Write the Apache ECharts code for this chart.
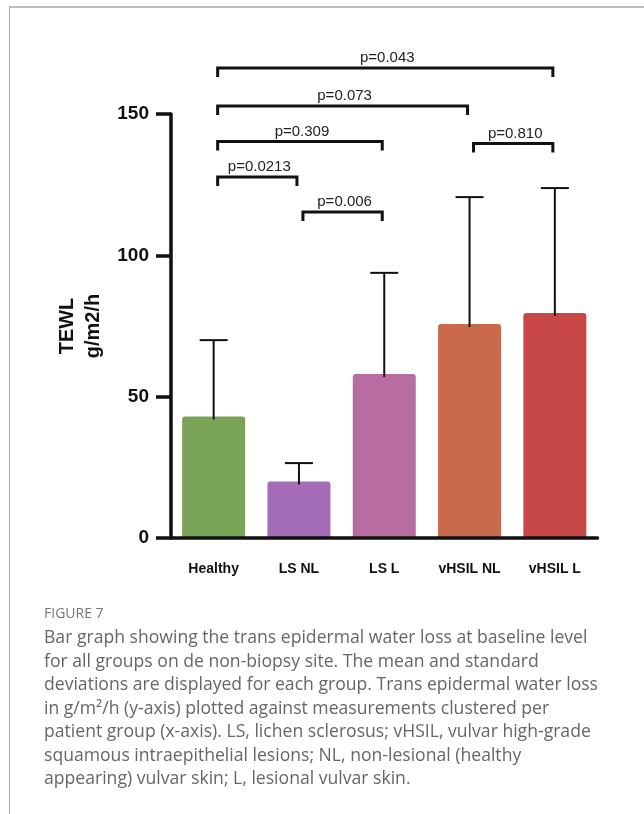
<!DOCTYPE html>
<html>
<head>
<meta charset="utf-8">
<script src="https://cdn.jsdelivr.net/npm/echarts@6/dist/echarts.min.js"></script>
<style>
html,body{margin:0;padding:0;background:#fff;}
#chart{width:644px;height:814px;}
</style>
</head>
<body>
<div id="chart"></div>
<script>
// ---- data ----
const categories = ['Healthy', 'LS NL', 'LS L', 'vHSIL NL', 'vHSIL L'];
const means = [43, 20, 58, 75.7, 79.6];
const sdTops = [70, 26.5, 93.8, 120.6, 123.8];
const barColors = ['#79A357', '#A46CB7', '#B76CA2', '#C96A4A', '#C84848'];
const yTicks = [0, 50, 100, 150];
// comparisons: [fromIndex, toIndex, bracketLevel, label]
const bracketFrom = [0, 0, 0, 0, 1, 3];
const bracketTo = [4, 3, 2, 1, 2, 4];
const bracketLevel = [166.3, 152.8, 140.3, 127.7, 115.3, 139.6];
const bracketLabels = ['p=0.043', 'p=0.073', 'p=0.309', 'p=0.0213', 'p=0.006', 'p=0.810'];
const yAxisName = 'TEWL\ng/m2/h';
const figureLabel = 'FIGURE 7';
const captionLines = [
  'Bar graph showing the trans epidermal water loss at baseline level',
  'for all groups on de non-biopsy site. The mean and standard',
  'deviations are displayed for each group. Trans epidermal water loss',
  'in g/m\u00B2/h (y-axis) plotted against measurements clustered per',
  'patient group (x-axis). LS, lichen sclerosus; vHSIL, vulvar high-grade',
  'squamous intraepithelial lesions; NL, non-lesional (healthy',
  'appearing) vulvar skin; L, lesional vulvar skin.'
];

// ---- build ----
const chart = echarts.init(document.getElementById('chart'));
const axisFont = 'Liberation Sans, Arial, Helvetica, sans-serif';
const ink = '#111';

const barData = means.map((v, i) => ({ value: v, itemStyle: { color: barColors[i] } }));
const errData = means.map((v, i) => [i, v, sdTops[i]]);
const brData = bracketFrom.map((f, i) => [f, bracketTo[i], bracketLevel[i], bracketLabels[i]]);

const graphics = [
  { type: 'line', shape: { x1: 9, y1: 7, x2: 644, y2: 7 }, style: { stroke: '#bdbdbd', lineWidth: 2 } },
  { type: 'line', shape: { x1: 9.5, y1: 7, x2: 9.5, y2: 814 }, style: { stroke: '#a8a8a8', lineWidth: 1 } },
  { type: 'text', left: 44, top: 607, style: { text: figureLabel, font: '14px "Open Sans", sans-serif', fill: '#777' } }
];
captionLines.forEach((t, i) => {
  graphics.push({ type: 'text', left: 44, top: 629 + i * 23.5,
    style: { text: t, font: '17.6px "Open Sans", sans-serif', fill: '#666' } });
});

const option = {
  animation: false,
  backgroundColor: '#fff',
  grid: { left: 171, right: 46.5, top: 114, bottom: 276, containLabel: false },
  xAxis: {
    type: 'category',
    data: categories,
    z: 5,
    axisLine: { lineStyle: { color: ink, width: 3.5 } },
    axisTick: { alignWithLabel: true, length: 15, lineStyle: { color: ink, width: 3.5 } },
    axisLabel: { color: ink, fontFamily: axisFont, fontWeight: 'bold', fontSize: 14, margin: 24 }
  },
  yAxis: {
    type: 'value',
    min: yTicks[0], max: yTicks[yTicks.length - 1], interval: 50,
    splitLine: { show: false },
    axisLine: { show: true, lineStyle: { color: ink, width: 3.5 } },
    axisTick: { show: true, length: 15, lineStyle: { color: ink, width: 3.5 } },
    axisLabel: { color: ink, fontFamily: axisFont, fontWeight: 'bold', fontSize: 19, margin: 22 },
    name: yAxisName,
    nameLocation: 'middle',
    nameRotate: 90,
    nameGap: 56,
    nameTextStyle: { color: ink, fontFamily: axisFont, fontWeight: 'bold', fontSize: 20, lineHeight: 26 }
  },
  series: [
    {
      type: 'bar',
      data: barData,
      barWidth: 63,
      itemStyle: { borderRadius: [3, 3, 0, 0] },
      z: 2
    },
    {
      type: 'custom',
      data: errData,
      z: 3,
      encode: { x: 0, y: [1, 2] },
      renderItem: function (params, api) {
        const p0 = api.coord([api.value(0), api.value(1)]);
        const p1 = api.coord([api.value(0), api.value(2)]);
        const hw = 14;
        return {
          type: 'group',
          children: [
            { type: 'line', shape: { x1: p0[0], y1: p0[1] + 3, x2: p1[0], y2: p1[1] }, style: { stroke: ink, lineWidth: 2 } },
            { type: 'line', shape: { x1: p1[0] - hw, y1: p1[1], x2: p1[0] + hw, y2: p1[1] }, style: { stroke: ink, lineWidth: 2 } }
          ]
        };
      }
    },
    {
      type: 'custom',
      data: brData,
      z: 4,
      clip: false,
      encode: { x: [0, 1], y: 2 },
      renderItem: function (params, api) {
        const a = api.coord([api.value(0), api.value(2)]);
        const b = api.coord([api.value(1), api.value(2)]);
        const xl = a[0] + 4, xr = b[0] - 2, y = a[1], drop = 9;
        const label = brData[params.dataIndex][3];
        return {
          type: 'group',
          children: [
            { type: 'polyline', shape: { points: [[xl, y + drop], [xl, y], [xr, y], [xr, y + drop]] },
              style: { stroke: ink, lineWidth: 3, fill: null } },
            { type: 'text', x: (xl + xr) / 2 + 2, y: y - 10,
              style: { text: label, font: '15px ' + axisFont, fill: '#222', textAlign: 'center', textVerticalAlign: 'middle' } }
          ]
        };
      }
    }
  ],
  graphic: graphics
};
chart.setOption(option);
</script>
</body>
</html>
